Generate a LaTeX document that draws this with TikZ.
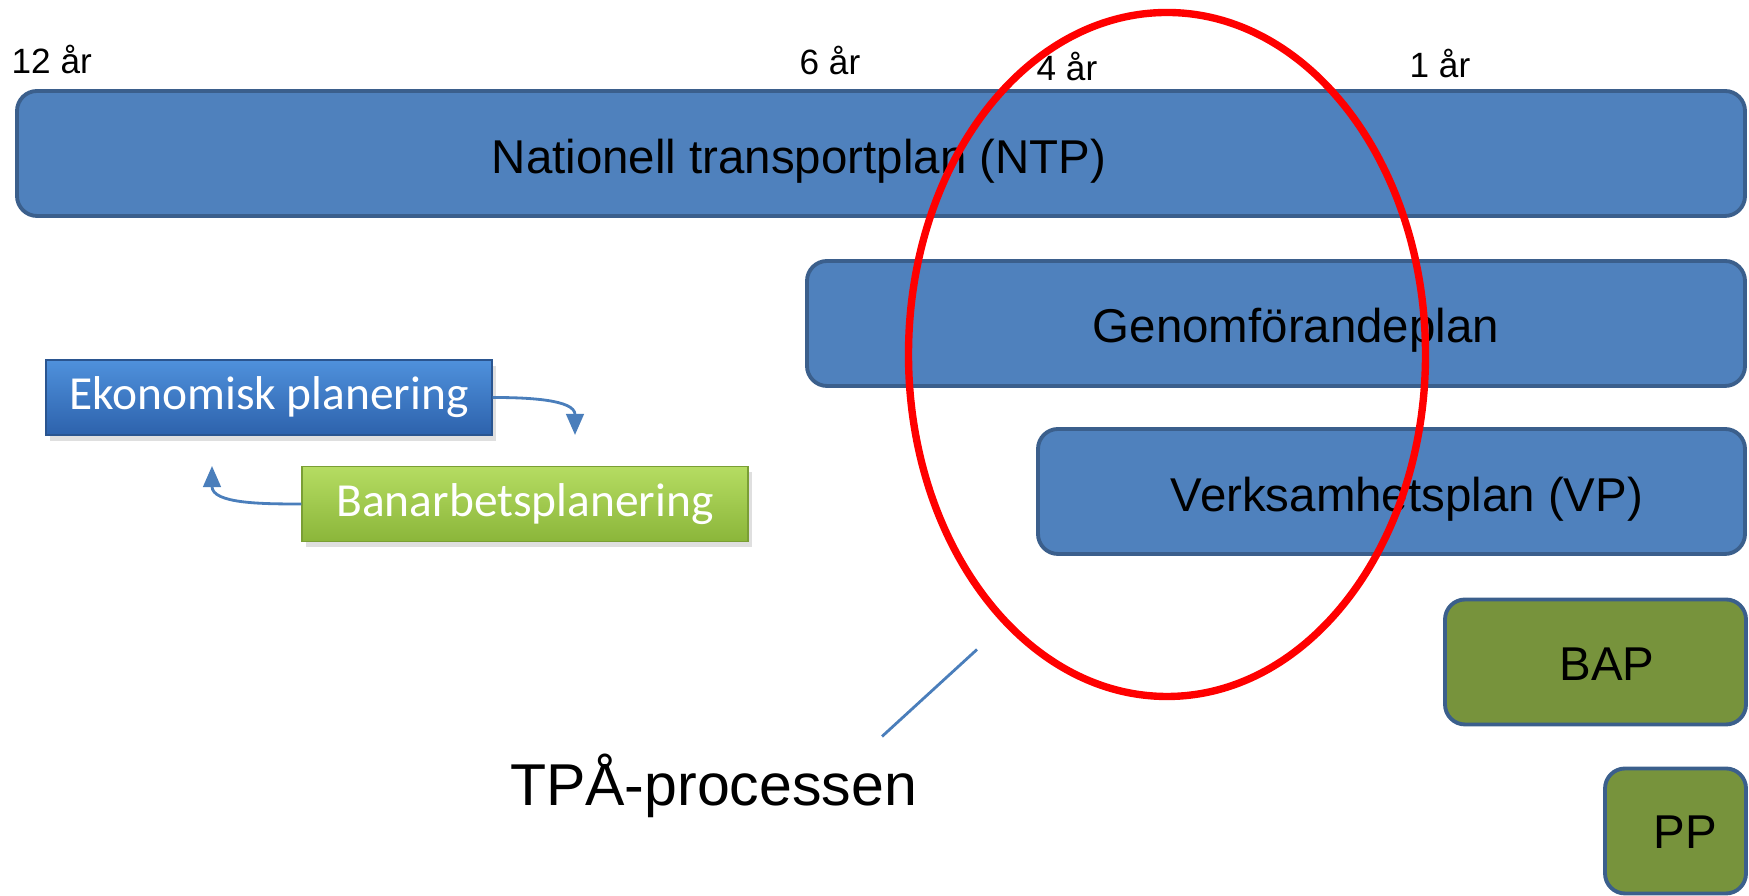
\documentclass[tikz,border=0pt]{standalone}
\usepackage{fontspec}
\setmainfont{Liberation Sans}
\newfontfamily\calfont{Carlito}
\usepackage{tikz}
\usetikzlibrary{positioning,arrows.meta,shapes.geometric,shadows}

\definecolor{planblue}{HTML}{4F81BD}
\definecolor{planedge}{HTML}{3B5F8C}
\definecolor{bapgreen}{HTML}{77933C}
\definecolor{ekontop}{HTML}{4F91DC}
\definecolor{ekonbot}{HTML}{2D62AC}
\definecolor{ekonedge}{HTML}{2A5590}
\definecolor{banatop}{HTML}{B5DC62}
\definecolor{banabot}{HTML}{8BB63A}
\definecolor{banaedge}{HTML}{7A9E35}
\definecolor{cycblue}{HTML}{4A7EBB}

\begin{document}
\begin{tikzpicture}[
  plan/.style  = {rectangle, rounded corners=0.2cm, draw=planedge,
                  line width=1.1pt, fill=planblue, minimum height=1.25cm,
                  inner sep=0pt},
  txt/.style   = {font=\fontsize{13.5}{16}\selectfont},
  bap/.style   = {plan, fill=bapgreen},
  ekonbox/.style = {rectangle, draw=ekonedge, line width=0.4pt,
                  top color=ekontop, bottom color=ekonbot,
                  minimum width=4.46cm, minimum height=0.75cm,
                  text=white, font=\calfont\fontsize{13.5}{16}\selectfont,
                  drop shadow={opacity=0.25, shadow xshift=0.04cm,
                               shadow yshift=-0.06cm}},
  banabox/.style = {ekonbox, draw=banaedge, top color=banatop,
                  bottom color=banabot},
  year/.style  = {anchor=base west, inner sep=0pt,
                  font=\fontsize{10}{12}\selectfont},
  cyc/.style   = {-{Triangle[length=6pt,width=5pt]}, line width=0.8pt,
                  draw=cycblue},
]
\useasboundingbox (0,0) rectangle (17.49,8.96);
% year marks
\node[year] (y12) at ( 0.11, 8.227) {12 år};
\node[year] (y6)  at ( 7.99, 8.21)  {6 år};
\node[year] (y4)  at (10.36, 8.15)  {4 år};
\node[year] (y1)  at (14.09, 8.183) {1 år};
% plans
\node[plan, minimum width=17.28cm] (ntp) at (8.81, 7.425)
  [label={[txt, xshift=-0.82cm, yshift=-0.08cm]center:Nationell transportplan (NTP)}] {};
\node[plan, minimum width=9.38cm] (gfp) at (12.76, 5.725)
  [label={[txt, xshift=0.2cm, yshift=-0.07cm]center:Genomförandeplan}] {};
\node[plan, minimum width=7.07cm] (vp) at (13.915, 4.045)
  [label={[txt, xshift=0.155cm, yshift=-0.08cm]center:Verksamhetsplan (VP)}] {};
\node[bap, minimum width=3.01cm] (bapbox) at (15.955, 2.34)
  [label={[txt, xshift=0.115cm, yshift=-0.02cm]center:BAP}] {};
\node[bap, minimum width=1.41cm] (ppbox) at (16.755, 0.65)
  [label={[txt, xshift=0.095cm, yshift=-0.01cm]center:PP}] {};
% planning cycle
\node[ekonbox] (ekon) at (2.69, 4.985) {Ekonomisk planering};
\node[banabox] (bana) at (5.25, 3.92)  {Banarbetsplanering};
\coordinate (ekonend) at (5.75, 4.61);
\coordinate (banaend) at (2.12, 4.30);
\draw[cyc] (ekon.east) to[out=0, in=90] (ekonend);
\draw[cyc] (bana.west) to[out=180, in=-90] (banaend);
% TPA
\node[ellipse, draw=red, line width=2.1pt, minimum width=5.17cm,
      minimum height=6.84cm, inner sep=0pt] (tpa) at (11.67, 5.415) {};
\node[anchor=base, inner sep=0pt, font=\fontsize{16.8}{20}\selectfont]
  (tpatext) at (7.135, 0.90) {TPÅ-processen};
\coordinate (calltop) at (9.77, 2.465);
\coordinate (callbot) at (8.82, 1.595);
\draw[cycblue, line width=0.8pt] (calltop) -- (callbot);
\end{tikzpicture}
\end{document}
